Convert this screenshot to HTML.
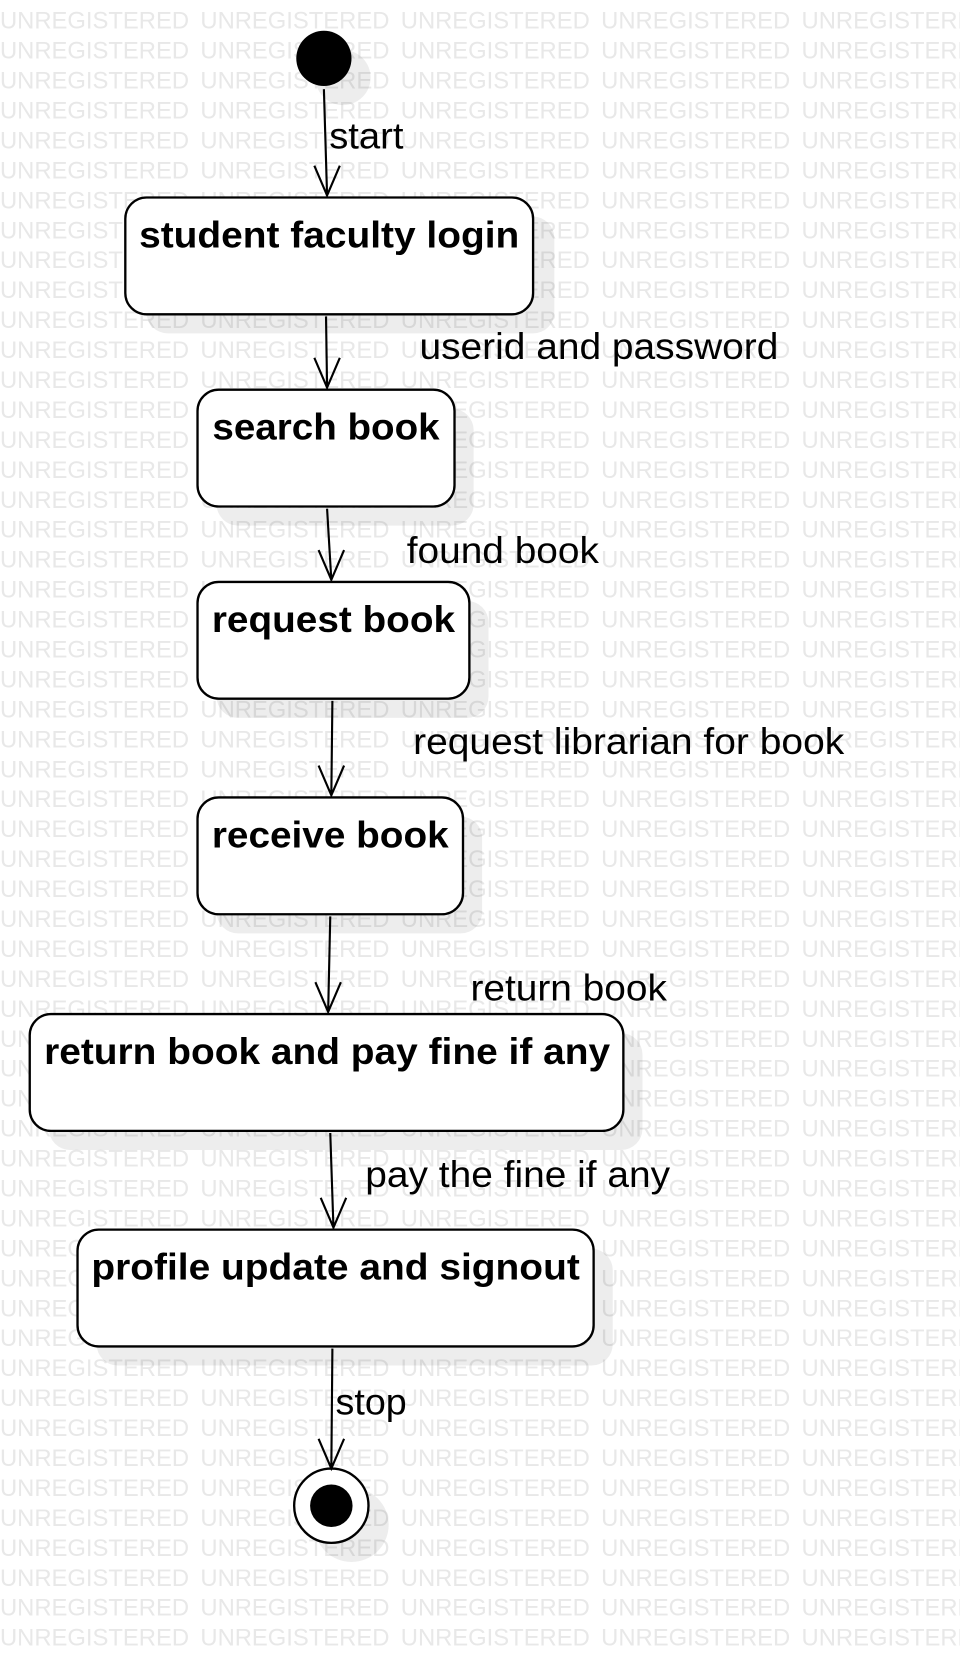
<!DOCTYPE html>
<html><head><meta charset="utf-8"><style>
html,body{margin:0;padding:0;background:#fff}
svg{display:block}
</style></head><body>
<svg width="960" height="1665" viewBox="0 0 904 1568" preserveAspectRatio="none" xmlns="http://www.w3.org/2000/svg" font-family="Liberation Sans, sans-serif">
<g fill="#e9e9e9" font-size="22.5">
<script>/* none */</script>
</g>
<g id="wm" fill="#e8e8e8" font-size="22.5"></g>
<g fill="#000" fill-opacity="0.07">
<circle cx="323" cy="73" r="26"/>
<rect x="138" y="204" width="384" height="110" rx="20"/>
<rect x="204" y="385" width="242" height="110" rx="20"/>
<rect x="204" y="566" width="256" height="110" rx="20"/>
<rect x="204" y="769" width="250" height="110" rx="20"/>
<rect x="46" y="973" width="559" height="110" rx="20"/>
<rect x="91" y="1176" width="486" height="110" rx="20"/>
<circle cx="331" cy="1436" r="35"/>
</g>
<g fill="#fff" stroke="#000" stroke-width="2.2">
<rect x="118" y="186" width="384" height="110" rx="20"/>
<rect x="186" y="367" width="242" height="110" rx="20"/>
<rect x="186" y="548" width="256" height="110" rx="20"/>
<rect x="186" y="751" width="250" height="110" rx="20"/>
<rect x="28" y="955" width="559" height="110" rx="20"/>
<rect x="73" y="1158" width="486" height="110" rx="20"/>
<circle cx="312" cy="1418" r="35"/>
</g>
<circle cx="305" cy="55" r="26" fill="#000"/>
<circle cx="312" cy="1418" r="20" fill="#000"/>
<g stroke="#000" stroke-width="2" fill="none">
<path d="M305 84 L308 184 M296 156 L308 184 L320 156"/>
<path d="M307 298 L308 365 M296 337 L308 365 L320 337"/>
<path d="M308 479 L312 546 M300 518 L312 546 L324 518"/>
<path d="M313 660 L312 749 M300 721 L312 749 L324 721"/>
<path d="M311 863 L309 953 M297 925 L309 953 L321 925"/>
<path d="M311 1067 L314 1156 M302 1128 L314 1156 L326 1128"/>
<path d="M313 1270 L312 1383 M300 1355 L312 1383 L324 1355"/>
</g>
<g font-weight="bold" font-size="35" fill="#000" text-anchor="middle">
<text x="310" y="233" textLength="358" lengthAdjust="spacingAndGlyphs">student faculty login</text>
<text x="307" y="414" textLength="214" lengthAdjust="spacingAndGlyphs">search book</text>
<text x="314" y="595" textLength="229" lengthAdjust="spacingAndGlyphs">request book</text>
<text x="311" y="798" textLength="223" lengthAdjust="spacingAndGlyphs">receive book</text>
<text x="308" y="1002" textLength="533" lengthAdjust="spacingAndGlyphs">return book and pay fine if any</text>
<text x="316" y="1205" textLength="460" lengthAdjust="spacingAndGlyphs">profile update and signout</text>
</g>
<g font-size="35" fill="#000">
<text x="310" y="140" textLength="70" lengthAdjust="spacingAndGlyphs">start</text>
<text x="395" y="338" textLength="338" lengthAdjust="spacingAndGlyphs">userid and password</text>
<text x="383" y="530" textLength="181" lengthAdjust="spacingAndGlyphs">found book</text>
<text x="389" y="710" textLength="406" lengthAdjust="spacingAndGlyphs">request librarian for book</text>
<text x="443" y="942" textLength="185" lengthAdjust="spacingAndGlyphs">return book</text>
<text x="344" y="1118" textLength="287" lengthAdjust="spacingAndGlyphs">pay the fine if any</text>
<text x="316" y="1332" textLength="67" lengthAdjust="spacingAndGlyphs">stop</text>
</g>
</svg>
<script>
(function(){
var g=document.getElementById('wm');var ns='http://www.w3.org/2000/svg';
var svg=g.ownerSVGElement;
for(var r=0;r<55;r++){for(var c=0;c<5;c++){var t=document.createElementNS(ns,'text');
t.setAttribute('x',c*188.7);t.setAttribute('y',27+r*28.2);
t.setAttribute('textLength','178');t.setAttribute('lengthAdjust','spacingAndGlyphs');
t.textContent='UNREGISTERED';g.appendChild(t);}}
// move watermark to behind shadows
svg.insertBefore(g,svg.firstChild);
})();
</script>
</body></html>
